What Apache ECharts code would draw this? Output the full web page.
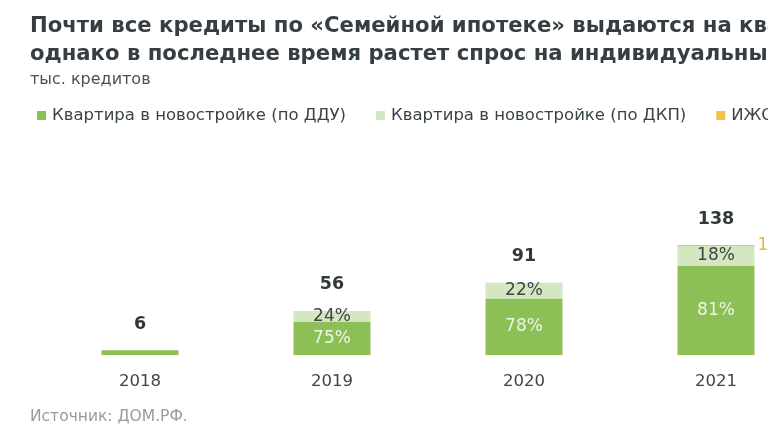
<!DOCTYPE html>
<html>
<head>
<meta charset="utf-8">
<script src="https://cdn.jsdelivr.net/npm/echarts@6/dist/echarts.min.js"></script>
<style>
html,body{margin:0;padding:0;background:#fff;overflow:hidden;width:768px;height:431px;}
#c{width:830px;height:431px;}
</style>
</head>
<body>
<div id="c"></div>
<script>
const categories = ['2018', '2019', '2020', '2021'];
const seriesNames = ['Квартира в новостройке (по ДДУ)', 'Квартира в новостройке (по ДКП)', 'ИЖС'];
const dduValues = [6, 42, 71, 112];
const dkpValues = [0, 13.5, 20, 25];
const izhsValues = [0, 0, 0, 1.4];
const totals = [6, 56, 91, 138];
const dduLabels = ['', '75%', '78%', '81%'];
const dkpLabels = ['', '24%', '22%', '18%'];
const izhsLabels = ['', '', '', '1%'];

const FONT = 'DejaVu Sans';
const chart = echarts.init(document.getElementById('c'), null, {renderer: 'canvas'});

function lbl(arr) {
  return p => arr[p.dataIndex] || '';
}

chart.setOption({
  animation: false,
  textStyle: {fontFamily: FONT},
  title: [
    {
      text: 'Почти все кредиты по «Семейной ипотеке» выдаются на квартиры в новостройках,\nоднако в последнее время растет спрос на индивидуальные дома',
      left: 30, top: 12, padding: 0,
      textStyle: {fontFamily: FONT, fontSize: 21.2, fontWeight: 'bold', color: '#353f43', lineHeight: 28}
    },
    {
      text: 'тыс. кредитов',
      left: 30, top: 72, padding: 0,
      textStyle: {fontFamily: FONT, fontSize: 16, fontWeight: 'normal', color: '#4a5256'}
    },
    {
      text: 'Источник: ДОМ.РФ.',
      left: 30, top: 409, padding: 0,
      textStyle: {fontFamily: FONT, fontSize: 15.5, fontWeight: 'normal', color: '#9a9a9a'}
    }
  ],
  legend: {
    data: seriesNames,
    left: 37, top: 107, padding: 0,
    icon: 'rect', itemWidth: 9, itemHeight: 9, itemGap: 30,
    textStyle: {fontFamily: FONT, fontSize: 16.5, color: '#3a4448', padding: [0, 0, 0, 1]}
  },
  grid: {left: 44, right: 18, top: 196, bottom: 76, containLabel: false},
  xAxis: {
    type: 'category', data: categories,
    axisLine: {show: false}, axisTick: {show: false},
    axisLabel: {fontFamily: FONT, fontSize: 16.5, color: '#444', margin: 18}
  },
  yAxis: {type: 'value', min: 0, max: 200, show: false, splitLine: {show: false}},
  series: [
    {
      name: seriesNames[0], type: 'bar', stack: 's', data: dduValues, barWidth: 77,
      itemStyle: {color: '#8dbf57'},
      label: {show: true, position: 'inside', formatter: lbl(dduLabels), fontFamily: FONT, fontSize: 17, color: '#eef5df'}
    },
    {
      name: seriesNames[1], type: 'bar', stack: 's', data: dkpValues, barWidth: 77,
      itemStyle: {color: '#d4e7c1'},
      label: {show: true, position: 'inside', formatter: lbl(dkpLabels), fontFamily: FONT, fontSize: 17, color: '#3d4548'}
    },
    {
      name: seriesNames[2], type: 'bar', stack: 's', data: izhsValues, barWidth: 77,
      itemStyle: {color: '#f0c24a'},
      label: {show: true, position: 'right', distance: 3, formatter: lbl(izhsLabels), fontFamily: FONT, fontSize: 17, color: '#e8b838'}
    },
    {
      name: 'total', type: 'scatter', symbolSize: 0, silent: true,
      itemStyle: {opacity: 1},
      data: totals.map((v, i) => [i, v]),
      label: {show: true, position: 'top', distance: 17, formatter: p => String(totals[p.dataIndex]),
        fontFamily: FONT, fontSize: 17.5, fontWeight: 'bold', color: '#2f383b'}
    }
  ]
});
</script>
</body>
</html>
